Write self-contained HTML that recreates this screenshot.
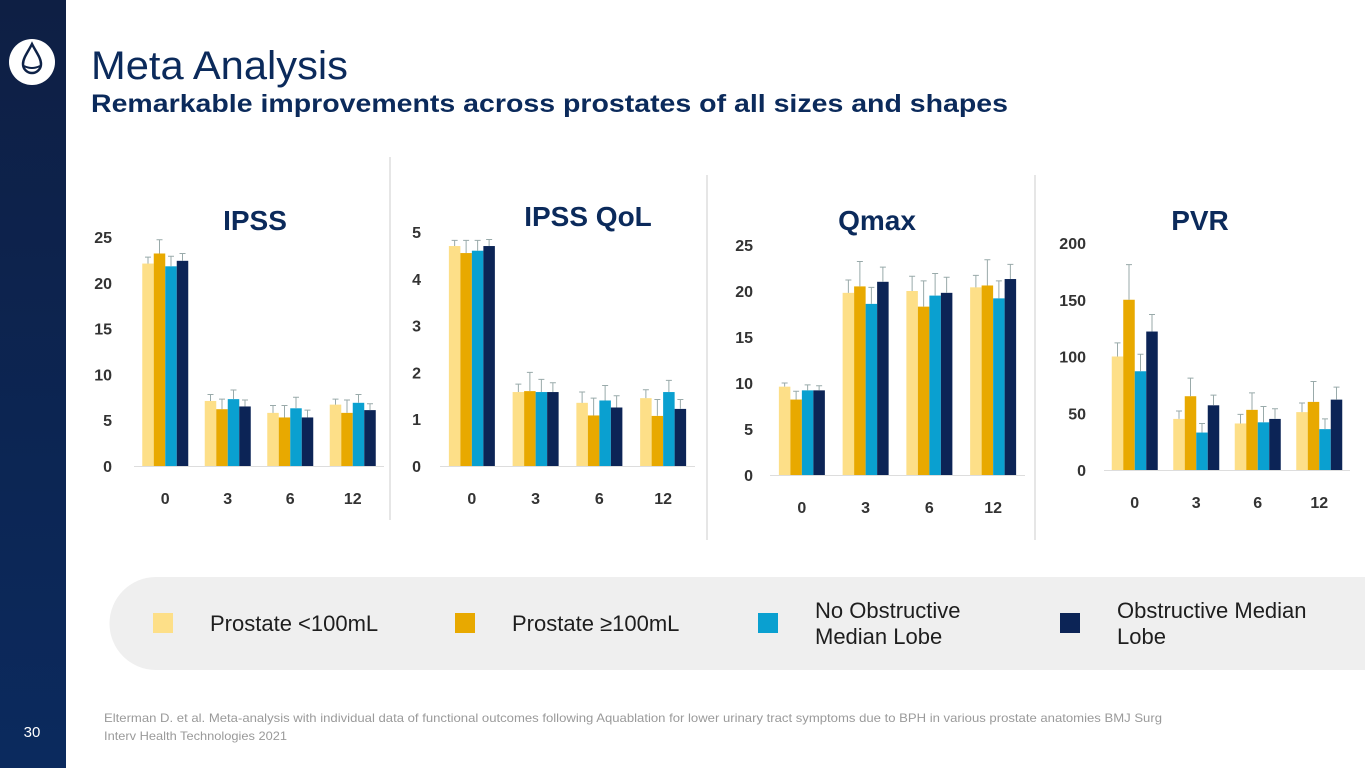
<!DOCTYPE html>
<html><head><meta charset="utf-8"><style>
body{margin:0;width:1365px;height:768px;overflow:hidden;background:#fff;font-family:"Liberation Sans",sans-serif;position:relative}
.side{position:absolute;left:0;top:0;width:66px;height:768px;background:linear-gradient(#0e1f44,#0b2a5e)}
</style></head><body>
<div class="side"></div>
<svg width="1365" height="768" style="position:absolute;left:0;top:0" id="s" font-family="Liberation Sans, sans-serif">
<g>
<circle cx="32" cy="62" r="23" fill="#fff"/>
<path d="M32 44 C28 52 23 58 23 64 A9 9 0 0 0 41 64 C41 58 36 52 32 44Z" fill="none" stroke="#0e2247" stroke-width="2.5"/>
<path d="M24 66 Q32 70 40 66" fill="none" stroke="#0e2247" stroke-width="2"/>
</g>
<text x="32" y="737" fill="#fff" font-size="15" text-anchor="middle">30</text>
<text x="91" y="79" fill="#0b2a5b" font-size="40" textLength="257" lengthAdjust="spacingAndGlyphs">Meta Analysis</text>
<text x="91" y="112" fill="#0b2a5b" font-size="25" font-weight="bold" textLength="917" lengthAdjust="spacingAndGlyphs">Remarkable improvements across prostates of all sizes and shapes</text>
<line x1="390" y1="157" x2="390" y2="520" stroke="#ccc"/>
<line x1="707" y1="175" x2="707" y2="540" stroke="#ccc"/>
<line x1="1035" y1="175" x2="1035" y2="540" stroke="#ccc"/>
<path d="M156 577 H1365 V670 H156 A46.5 46.5 0 0 1 156 577Z" fill="#efefef"/>
<g>
<rect x="153" y="613" width="20" height="20" fill="#fddf88"/>
<text x="210" y="631" font-size="22" fill="#1e1e1e">Prostate &lt;100mL</text>
<rect x="455" y="613" width="20" height="20" fill="#e8a900"/>
<text x="512" y="631" font-size="22" fill="#1e1e1e">Prostate ≥100mL</text>
<rect x="758" y="613" width="20" height="20" fill="#0aa0d0"/>
<text x="815" y="618" font-size="22" fill="#1e1e1e"><tspan x="815">No Obstructive</tspan><tspan x="815" dy="26">Median Lobe</tspan></text>
<rect x="1060" y="613" width="20" height="20" fill="#0c2456"/>
<text x="1117" y="618" font-size="22" fill="#1e1e1e"><tspan x="1117">Obstructive Median</tspan><tspan x="1117" dy="26">Lobe</tspan></text>
</g>
<text x="104" y="722" font-size="12" fill="#9a9a9a" textLength="1058" lengthAdjust="spacingAndGlyphs">Elterman D. et al. Meta-analysis with individual data of functional outcomes following Aquablation for lower urinary tract symptoms due to BPH in various prostate anatomies BMJ Surg</text>
<text x="104" y="740" font-size="12" fill="#9a9a9a" textLength="183" lengthAdjust="spacingAndGlyphs">Interv Health Technologies 2021</text>
<g id="charts"></g>
</svg>
<script>
const categories=["0","3","6","12"];
const seriesColors=["#fddf88","#e8a900","#0aa0d0","#0c2456"];
const ipssValues=[[22.1,7.1,5.8,6.7],[23.2,6.2,5.3,5.8],[21.8,7.3,6.3,6.9],[22.4,6.5,5.3,6.1]];
const ipssErr=[[0.7,0.7,0.8,0.6],[1.5,1.1,1.3,1.4],[1.1,1.0,1.2,0.9],[0.8,0.7,0.8,0.7]];
const ipssTicks=[0,5,10,15,20,25];
const qolValues=[[4.7,1.58,1.35,1.45],[4.55,1.6,1.08,1.07],[4.6,1.58,1.4,1.58],[4.7,1.58,1.25,1.22]];
const qolErr=[[0.12,0.17,0.23,0.18],[0.27,0.4,0.37,0.35],[0.22,0.27,0.32,0.25],[0.14,0.2,0.25,0.2]];
const qolTicks=[0,1,2,3,4,5];
const qmaxValues=[[9.6,19.8,20.0,20.4],[8.2,20.5,18.3,20.6],[9.2,18.6,19.5,19.2],[9.2,21.0,19.8,21.3]];
const qmaxErr=[[0.4,1.4,1.6,1.3],[0.9,2.7,2.8,2.8],[0.6,1.8,2.4,1.9],[0.5,1.6,1.7,1.6]];
const qmaxTicks=[0,5,10,15,20,25];
const pvrValues=[[100,45,41,51],[150,65,53,60],[87,33,42,36],[122,57,45,62]];
const pvrErr=[[12,7,8,8],[31,16,15,18],[15,8,14,9],[15,9,9,11]];
const pvrTicks=[0,50,100,150,200];
const charts=[
 {name:"ipss",title:"IPSS",tx:255,ty:230,vals:ipssValues,err:ipssErr,ticks:ipssTicks,x0:134,x1:384,y0:466,y1:237,labX:112},
 {name:"ipss-qol",title:"IPSS QoL",tx:588,ty:226,vals:qolValues,err:qolErr,ticks:qolTicks,x0:440,x1:695,y0:466,y1:232,labX:421},
 {name:"qmax",title:"Qmax",tx:877,ty:230,vals:qmaxValues,err:qmaxErr,ticks:qmaxTicks,x0:770,x1:1025,y0:475,y1:245,labX:753},
 {name:"pvr",title:"PVR",tx:1200,ty:230,vals:pvrValues,err:pvrErr,ticks:pvrTicks,x0:1104,x1:1350,y0:470,y1:243,labX:1086}
];
const NS="http://www.w3.org/2000/svg";
const root=document.getElementById("charts");
function mk(tag,attrs,parent){const e=document.createElementNS(NS,tag);for(const k in attrs)e.setAttribute(k,attrs[k]);parent.appendChild(e);return e;}
charts.forEach(c=>{
 const g=mk("g",{},root);
 
 
 const max=c.ticks[c.ticks.length-1];
 const y=v=>c.y0-(v/max)*(c.y0-c.y1);
 const step=(c.x1-c.x0)/categories.length;
 const cx=i=>c.x0+step*(i+0.5);
 const t=mk("text",{x:c.tx,y:c.ty,"text-anchor":"middle","font-size":"28","font-weight":"bold",fill:"#0b2a5b"},g);
 t.textContent=c.title;
 
 
 c.ticks.forEach(v=>{
  const l=mk("text",{x:c.labX,y:y(v)+6,"text-anchor":"end","font-size":"16","font-weight":"bold",fill:"#333"},g);
  l.textContent=v;
  
  
 });
 const ax=mk("line",{x1:c.x0,x2:c.x1,y1:c.y0+0.5,y2:c.y0+0.5,stroke:"#ddd","stroke-width":"1"},g);
 
 
 const bw=11.5;
 categories.forEach((cat,i)=>{
  const l=mk("text",{x:cx(i),y:c.y0+38,"text-anchor":"middle","font-size":"16","font-weight":"bold",fill:"#333"},g);
  l.textContent=cat;
  
  
  for(let s=0;s<4;s++){
   const v=c.vals[s][i],bx=cx(i)-2*bw+s*bw;
   const r=mk("rect",{x:bx,y:y(v),width:bw,height:c.y0-y(v),fill:seriesColors[s]},g);
   
   
   const top=y(v+c.err[s][i]),mx=bx+bw/2;
   const e=mk("path",{d:`M${mx} ${y(v)} V${top} M${mx-3} ${top} H${mx+3}`,stroke:"#9aa",fill:"none","stroke-width":"1"},g);
   
   
  }
 });
});
</script>
</body></html>
